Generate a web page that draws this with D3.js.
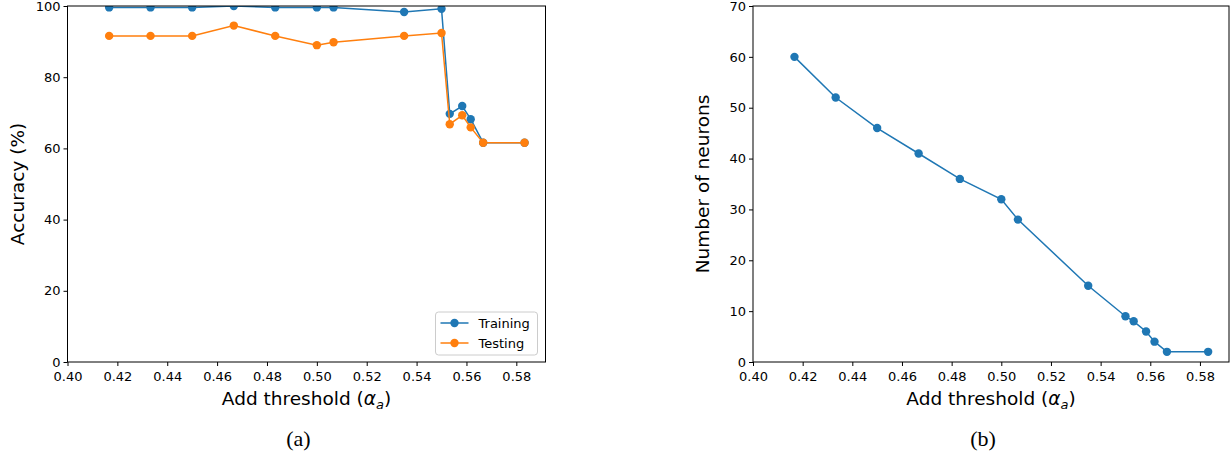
<!DOCTYPE html>
<html>
<head>
<meta charset="utf-8" />
<script src="https://d3js.org/d3.v7.min.js"></script>
<style>
  body { margin: 0; background: #fff; }
  text { font-family: "DejaVu Sans", sans-serif; fill: #000; }
</style>
</head>
<body>
<div id="canvas"></div>
<script>
// data
var thresholds = [0.4167, 0.4333, 0.45, 0.4667, 0.4833, 0.50, 0.5067, 0.535, 0.55, 0.5533, 0.5583, 0.5617, 0.5667, 0.5833];
var trainAcc = [99.6, 99.6, 99.6, 100, 99.6, 99.6, 99.6, 98.3, 99.2, 69.7, 71.9, 68.2, 61.6, 61.6];
var testAcc = [91.6, 91.6, 91.6, 94.5, 91.6, 89.0, 89.8, 91.6, 92.4, 66.8, 69.3, 65.9, 61.6, 61.6];
var neurons = [60, 52, 46, 41, 36, 32, 28, 15, 9, 8, 6, 4, 2, 2];
var xTicks = [0.40, 0.42, 0.44, 0.46, 0.48, 0.50, 0.52, 0.54, 0.56, 0.58];
var accTicks = [0, 20, 40, 60, 80, 100];
var neuronTicks = [0, 10, 20, 30, 40, 50, 60, 70];

var blue = "#1f77b4", orange = "#ff7f0e";
var W = 1231, H = 457;

var svg = d3.select("#canvas").append("svg")
    .attr("width", W).attr("height", H);

function panel(id, left, right, top, bottom, yMax, yTicks, yLabel, series, caption, legend) {
    var x = d3.scaleLinear().domain([0.40, 0.5917]).range([left, right]);
    var y = d3.scaleLinear().domain([0, yMax]).range([bottom, top]);
    var g = svg.append("g");

    g.append("clipPath").attr("id", id)
        .append("rect").attr("x", left).attr("y", top)
        .attr("width", right - left).attr("height", bottom - top);

    var plot = g.append("g").attr("clip-path", "url(#" + id + ")");
    var line = d3.line().x(function(d) { return x(d[0]); }).y(function(d) { return y(d[1]); });

    series.forEach(function(s) {
        var pts = thresholds.map(function(t, i) { return [t, s.values[i]]; });
        plot.append("path").datum(pts)
            .attr("d", line)
            .attr("fill", "none").attr("stroke", s.color).attr("stroke-width", 1.5);
        plot.selectAll(null).data(pts).enter().append("circle")
            .attr("cx", function(d) { return x(d[0]); })
            .attr("cy", function(d) { return y(d[1]); })
            .attr("r", 4.2).attr("fill", s.color);
    });

    // axes
    var xAxis = d3.axisBottom(x).tickValues(xTicks).tickFormat(d3.format(".2f")).tickSize(4).tickPadding(6);
    var yAxis = d3.axisLeft(y).tickValues(yTicks).tickSize(4).tickPadding(3);
    var gx = g.append("g").attr("transform", "translate(0," + bottom + ")").call(xAxis);
    var gy = g.append("g").attr("transform", "translate(" + left + ",0)").call(yAxis);
    [gx, gy].forEach(function(a) {
        a.select(".domain").remove();
        a.selectAll("text").attr("font-size", 13).attr("font-family", "DejaVu Sans").attr("fill", "#000");
        a.selectAll("line").attr("stroke", "#000").attr("stroke-width", 1);
    });

    // frame
    g.append("rect").attr("x", left).attr("y", top)
        .attr("width", right - left).attr("height", bottom - top)
        .attr("fill", "none").attr("stroke", "#000").attr("stroke-width", 1);

    g.append("text")
        .attr("x", (left + right) / 2).attr("y", bottom + 43)
        .attr("text-anchor", "middle").attr("font-size", 18.5)
        .html('Add threshold (<tspan font-style="italic">α</tspan><tspan font-style="italic" font-size="13" dy="4">a</tspan><tspan dy="-4">)</tspan>');

    g.append("text")
        .attr("transform", "translate(" + (left - 44) + "," + ((top + bottom) / 2) + ") rotate(-90)")
        .attr("text-anchor", "middle").attr("font-size", 18.5)
        .text(yLabel);

    g.append("text")
        .attr("x", (left + right) / 2 - 8).attr("y", 446)
        .attr("text-anchor", "middle").attr("font-size", 22)
        .style("font-family", "'Liberation Serif', serif")
        .text(caption);

    if (legend) {
        var lx = right - 110, ly = bottom - 50;
        g.append("rect").attr("x", lx).attr("y", ly).attr("width", 102).attr("height", 43)
            .attr("rx", 3).attr("fill", "#fff").attr("stroke", "#ccc");
        series.forEach(function(s, i) {
            var yy = ly + 11 + i * 20;
            g.append("line").attr("x1", lx + 5).attr("x2", lx + 33).attr("y1", yy).attr("y2", yy)
                .attr("stroke", s.color).attr("stroke-width", 1.5);
            g.append("circle").attr("cx", lx + 19).attr("cy", yy).attr("r", 4.2).attr("fill", s.color);
            g.append("text").attr("x", lx + 43).attr("y", yy + 4.5).attr("font-size", 13).text(s.name);
        });
    }
}

panel("clipA", 67.5, 545.5, 6, 362, 100, accTicks, "Accuracy (%)",
    [{name: "Training", values: trainAcc, color: blue},
     {name: "Testing", values: testAcc, color: orange}], "(a)", true);

panel("clipB", 753, 1229, 6, 362, 70, neuronTicks, "Number of neurons",
    [{name: "neurons", values: neurons, color: blue}], "(b)", false);
</script>
</body>
</html>
